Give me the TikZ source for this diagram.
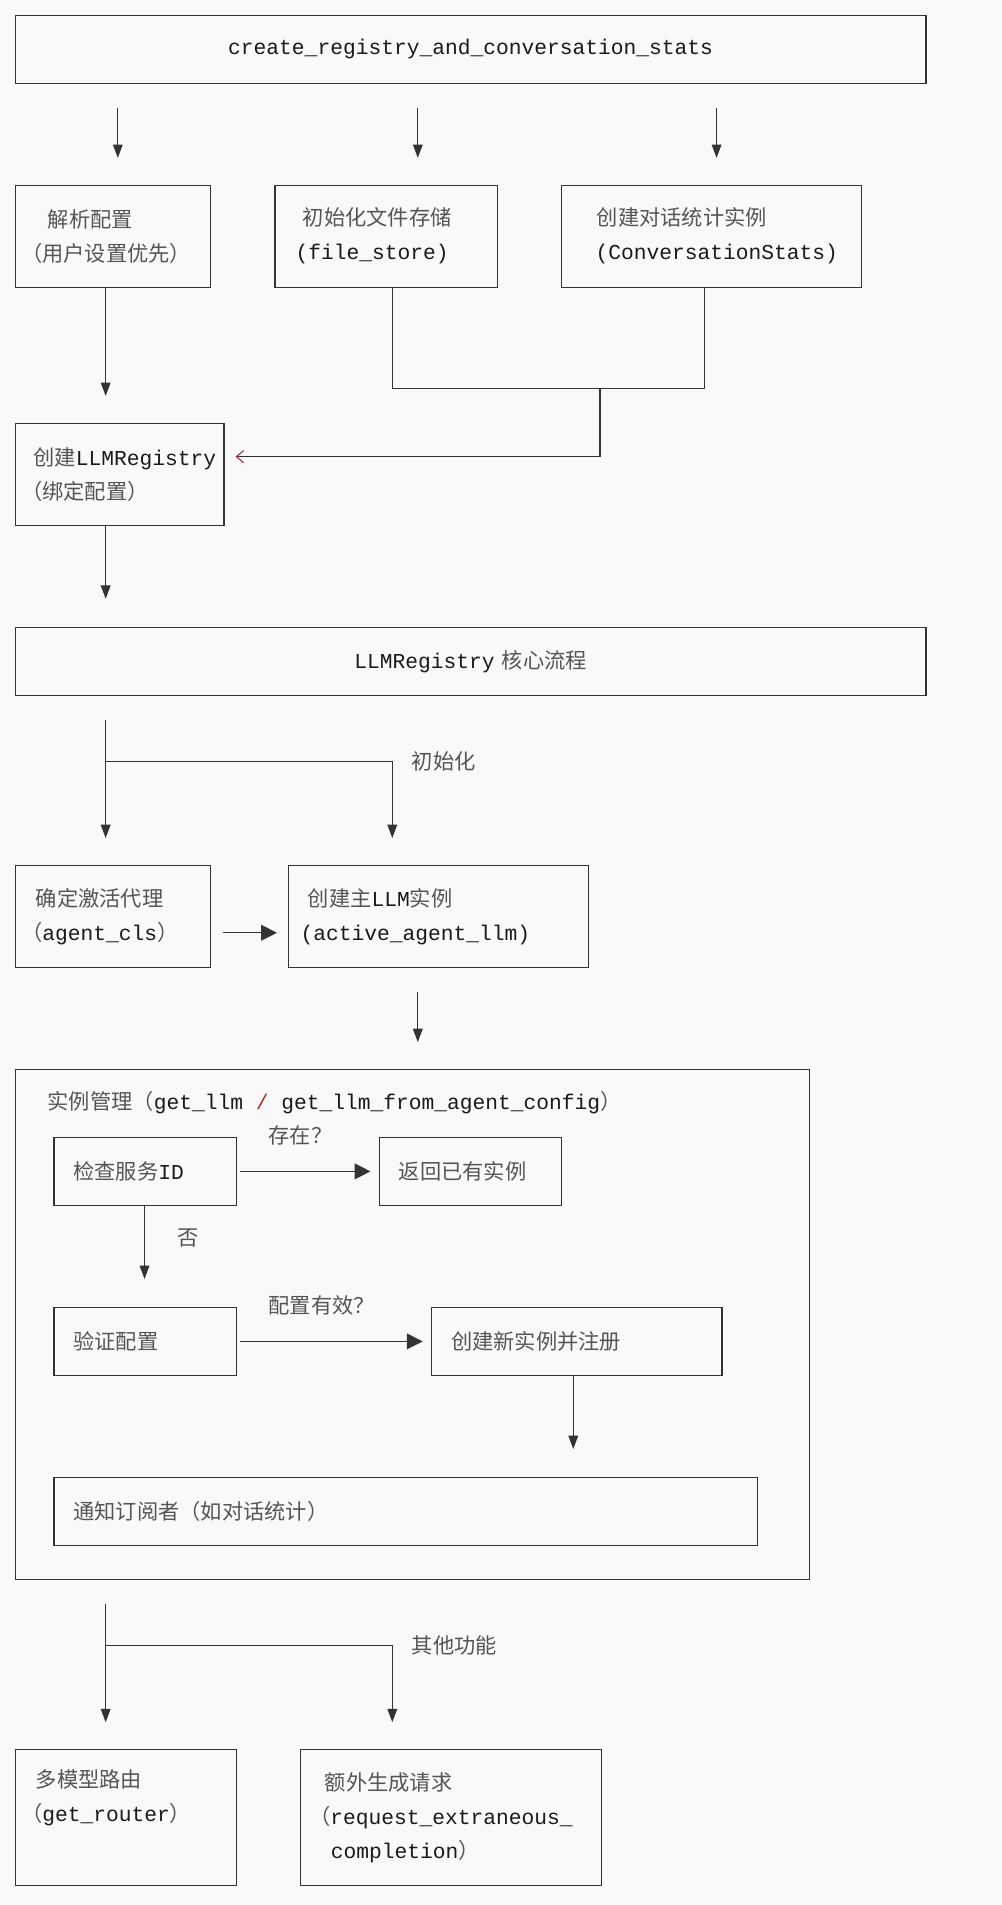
\documentclass[tikz,border=0pt]{standalone}
\usepackage{fontspec}
\setmainfont{Liberation Mono}
\newfontfamily\cjk{Noto Sans CJK SC}
\usetikzlibrary{arrows.meta,calc}
\definecolor{bg}{HTML}{F9F9F9}
\definecolor{zhgray}{HTML}{555555}
\definecolor{ink}{HTML}{1A1A1A}
\definecolor{linec}{HTML}{333333}
\definecolor{redc}{HTML}{B03030}
\newcommand{\zh}[1]{{\cjk\color{zhgray}#1}}
\tikzset{
  box/.style={draw=linec, line width=0.9pt, anchor=north west, inner xsep=5pt, inner ysep=0pt,
    align=left, font=\fontsize{17.5}{28}\selectfont, text=ink},
  conn/.style={draw=linec, line width=0.9pt},
  arr/.style={conn, -{Triangle[width=8pt,length=11pt]}},
  harr/.style={conn, -{Triangle[width=13pt,length=13pt]}},
  lbl/.style={font=\fontsize{17.5}{28}\selectfont, text=zhgray, inner sep=0pt, anchor=west},
}
\begin{document}
\begin{tikzpicture}[x=1pt,y=-1pt]
\useasboundingbox (0,0) rectangle (825,1568.5);
\fill[bg] (0,0) rectangle (825,1568.5);

% x reference coordinates
\coordinate (x87) at (87,0);
\coordinate (x97) at (97,0);
\coordinate (x119) at (119,0);
\coordinate (x323) at (323,0);
\coordinate (x344) at (344,0);
\coordinate (x472) at (472,0);
\coordinate (x580) at (580,0);
\coordinate (x590) at (590,0);
\coordinate (y768) at (0,768);

% boxes
\node[box, minimum width=750pt, text width=740pt, minimum height=56pt, align=center] (T) at (12,12)
  {create\_registry\_and\_conversation\_stats};
\node[box, minimum width=161pt, text width=151pt, minimum height=84pt] (A) at (12,152)
  {\hspace*{22pt}\zh{解析配置}\\\zh{（用户设置优先）}};
\node[box, minimum width=183pt, text width=173pt, minimum height=84pt] (B) at (226,152)
  {\hspace*{18pt}\zh{初始化文件存储}\\\hspace*{12pt}(file\_store)};
\node[box, minimum width=247pt, text width=237pt, minimum height=84pt] (C) at (462,152)
  {\hspace*{24pt}\zh{创建对话统计实例}\\\hspace*{23pt}(ConversationStats)};
\node[box, minimum width=172pt, text width=162pt, minimum height=84pt] (D) at (12,348)
  {\hspace*{10pt}\zh{创建}LLMRegistry\\\zh{（绑定配置）}};
\node[box, minimum width=750pt, text width=740pt, minimum height=56pt, align=center] (E) at (12,516)
  {LLMRegistry \zh{核心流程}};
\node[box, minimum width=161pt, text width=151pt, minimum height=84pt] (F) at (12,712)
  {\hspace*{12pt}\zh{确定激活代理}\\\zh{（}agent\_cls\zh{）}};
\node[box, minimum width=247pt, text width=237pt, minimum height=84pt] (G) at (237,712)
  {\hspace*{11pt}\zh{创建主}LLM\zh{实例}\\\hspace*{5pt}(active\_agent\_llm)};
\node[box, minimum width=654pt, minimum height=420pt] (H) at (12,880) {};
\node[lbl, text=ink] (Htitle) at (39,908)
  {\zh{实例管理（}get\_llm \textcolor{redc}{/} get\_llm\_from\_agent\_config\zh{）}};
\node[box, minimum width=150pt, text width=140pt, minimum height=56pt] (I) at (44,936)
  {\hspace*{11pt}\zh{检查服务}ID};
\node[box, minimum width=150pt, text width=140pt, minimum height=56pt] (J) at (312,936)
  {\hspace*{11pt}\zh{返回已有实例}};
\node[box, minimum width=150pt, text width=140pt, minimum height=56pt] (K) at (44,1076)
  {\hspace*{11pt}\zh{验证配置}};
\node[box, minimum width=239pt, text width=229pt, minimum height=56pt] (L) at (355,1076)
  {\hspace*{11pt}\zh{创建新实例并注册}};
\node[box, minimum width=579pt, text width=569pt, minimum height=56pt] (M) at (44,1216)
  {\hspace*{11pt}\zh{通知订阅者（如对话统计）}};
\node[box, minimum width=182pt, text width=172pt, minimum height=112pt] (N) at (12,1440)
  {\hspace*{12pt}\zh{多模型路由}\\\zh{（}get\_router\zh{）}\\\strut};
\node[box, minimum width=248pt, text width=238pt, minimum height=112pt] (O) at (247,1440)
  {\hspace*{15pt}\zh{额外生成请求}\\\hspace*{2pt}\zh{（}request\_extraneous\_\\\hspace*{20pt}completion\zh{）}};

% labels
\node[lbl] (linit) at (339,627) {\zh{初始化}};
\node[lbl] (lexist) at (221,935) {\zh{存在？}};
\node[lbl] (lno) at (146,1019) {\zh{否}};
\node[lbl] (lvalid) at (221,1075) {\zh{配置有效？}};
\node[lbl] (lother) at (339,1355) {\zh{其他功能}};

% junction coordinates
\coordinate (jBC) at (494,320);
\coordinate (jD) at (494,376);
\coordinate (jE) at (87,627);
\coordinate (jH) at (87,1355);

% connectors
\draw[arr, shorten <=20pt, shorten >=22pt] (T.south -| x97) -- (A.north -| x97);
\draw[arr, shorten <=20pt, shorten >=22pt] (T.south -| x344) -- (B.north -| x344);
\draw[arr, shorten <=20pt, shorten >=22pt] (T.south -| x590) -- (C.north -| x590);
\draw[arr, shorten >=22pt] (A.south -| x87) -- (D.north -| x87);
\draw[conn] (B.south -| x323) -- (x323 |- jBC) -- (x580 |- jBC) -- (C.south -| x580);
\draw[conn, -{Straight Barb[color=redc,length=6pt,width=10pt]}, shorten >=9pt]
  (jBC) -- (jD) -- (D.east |- jD);
\draw[arr, shorten >=23pt] (D.south -| x87) -- (E.north -| x87);
\draw[arr, shorten <=20pt, shorten >=22pt] (E.south -| x87) -- (F.north -| x87);
\draw[arr, shorten >=22pt] (jE) -- (x323 |- jE) -- (G.north -| x323);
\draw[harr, shorten <=10pt, shorten >=9pt] (F.east |- y768) -- (G.west |- y768);
\draw[arr, shorten <=20pt, shorten >=22pt] (G.south -| x344) -- (H.north -| x344);
\draw[harr, shorten <=3pt, shorten >=7pt] (I.east) -- (J.west);
\draw[arr, shorten >=23pt] (I.south -| x119) -- (K.north -| x119);
\draw[harr, shorten <=3pt, shorten >=7pt] (K.east) -- (L.west);
\draw[arr, shorten >=23pt] (L.south -| x472) -- (M.north -| x472);
\draw[arr, shorten <=20pt, shorten >=22pt] (H.south -| x87) -- (N.north -| x87);
\draw[arr, shorten >=22pt] (jH) -- (x323 |- jH) -- (O.north -| x323);
\end{tikzpicture}
\end{document}
